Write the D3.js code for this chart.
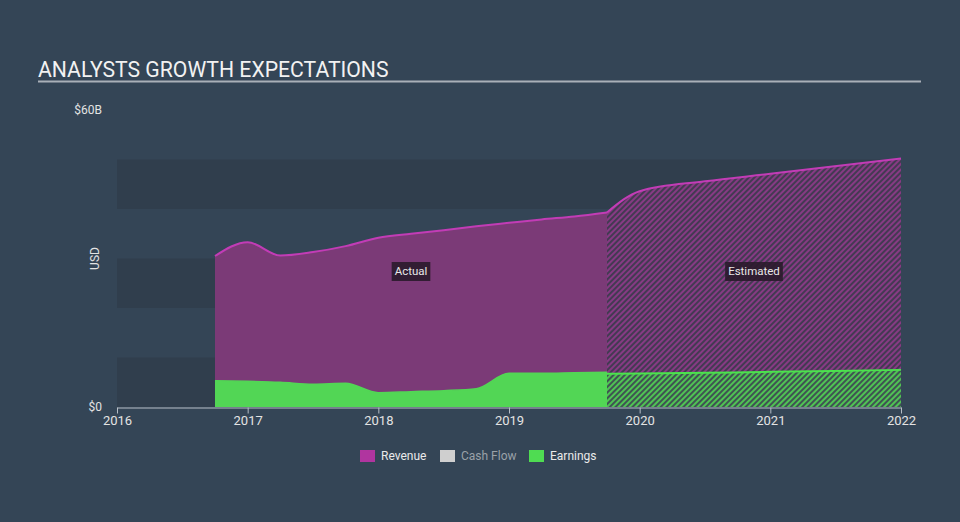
<!DOCTYPE html>
<html>
<head>
<meta charset="utf-8">
<script src="https://cdn.jsdelivr.net/npm/d3@7"></script>
<style>
  body { margin: 0; background: #344556; }
  svg { display: block; font-family: Roboto, "Open Sans", sans-serif; }
</style>
</head>
<body>
<div class="container"></div>
<script>
// values in $B, x is fractional year
var revActualX = [2016.75, 2017.0, 2017.25, 2017.5, 2017.75, 2018.0, 2018.25, 2018.5, 2018.75, 2019.0, 2019.25, 2019.5, 2019.75];
var revActual  = [30.5, 33.3, 30.6, 31.3, 32.5, 34.2, 35.0, 35.7, 36.5, 37.2, 37.9, 38.5, 39.3];
var earnActual = [5.3, 5.2, 5.0, 4.6, 4.8, 2.9, 3.1, 3.3, 3.7, 6.8, 6.8, 6.9, 7.0];

var estX      = [2019.75, 2020.0, 2020.5, 2021.0, 2022.0];
var revEst    = [39.3, 43.6, 45.6, 47.1, 50.2];
var earnEst   = [6.7, 6.75, 6.9, 7.1, 7.5];

var yearTicks = [2016, 2017, 2018, 2019, 2020, 2021, 2022];
var yTicks = [0, 60];
var yTickLabels = ["$0", "$60B"];
var bands = [[0, 10], [20, 30], [40, 50]];
var legendItems = ["Revenue", "Cash Flow", "Earnings"];
var legendColors = ["#b0359f", "#cfcfcf", "#4fdc52"];

buildChart();

function buildChart(){
  var width = 960, height = 522;
  var svg = d3.select(".container")
    .append("svg")
      .attr("width", width)
      .attr("height", height);

  svg.append("rect").attr("width", width).attr("height", height).attr("fill", "#344556");

  var x = d3.scaleLinear().domain([2016, 2022]).range([117, 901]);
  var y = d3.scaleLinear().domain([0, 60]).range([407, 110]);

  // hatch patterns for estimates
  var defs = svg.append("defs");
  var p1 = defs.append("pattern")
    .attr("id", "hatchRev")
    .attr("patternUnits", "userSpaceOnUse")
    .attr("width", 4).attr("height", 4)
    .attr("patternTransform", "rotate(45)");
  p1.append("rect").attr("width", 4).attr("height", 4).attr("fill", "#433a52");
  p1.append("rect").attr("width", 2).attr("height", 4).attr("fill", "#873a84");

  var p2 = defs.append("pattern")
    .attr("id", "hatchEarn")
    .attr("patternUnits", "userSpaceOnUse")
    .attr("width", 4).attr("height", 4)
    .attr("patternTransform", "rotate(45)");
  p2.append("rect").attr("width", 4).attr("height", 4).attr("fill", "#3f5352");
  p2.append("rect").attr("width", 2).attr("height", 4).attr("fill", "#50c354");

  // title
  svg.append("text")
    .attr("x", 38).attr("y", 77)
    .attr("fill", "#f2f2f2")
    .style("font-size", "21.2px")
    .text("ANALYSTS GROWTH EXPECTATIONS");
  svg.append("line")
    .attr("x1", 38).attr("x2", 921)
    .attr("y1", 81.5).attr("y2", 81.5)
    .attr("stroke", "#a9b0b8").attr("stroke-width", 2);

  // background bands
  svg.append("g")
    .selectAll("rect")
    .data(bands)
    .enter()
    .append("rect")
      .attr("x", x(2016))
      .attr("width", x(2022) - x(2016))
      .attr("y", function(d) { return y(d[1]); })
      .attr("height", function(d) { return y(d[0]) - y(d[1]); })
      .attr("fill", "#303e4d");

  var actual = revActualX.map(function(v, i) { return {x: v, rev: revActual[i], earn: earnActual[i]}; });
  var est = estX.map(function(v, i) { return {x: v, rev: revEst[i], earn: earnEst[i]}; });

  var area = function(key) {
    return d3.area().curve(d3.curveMonotoneX)
      .x(function(d) { return x(d.x); })
      .y0(y(0))
      .y1(function(d) { return y(d[key]); });
  };
  var line = function(key) {
    return d3.line().curve(d3.curveMonotoneX)
      .x(function(d) { return x(d.x); })
      .y(function(d) { return y(d[key]); });
  };

  // revenue
  svg.append("path").datum(actual).attr("d", area("rev")).attr("fill", "#7b3a77");
  svg.append("path").datum(est).attr("d", area("rev")).attr("fill", "url(#hatchRev)");
  // earnings
  svg.append("path").datum(actual).attr("d", area("earn")).attr("fill", "#52d655");
  svg.append("path").datum(est).attr("d", area("earn")).attr("fill", "url(#hatchEarn)");

  svg.append("path").datum(actual).attr("d", line("rev"))
    .attr("fill", "none").attr("stroke", "#c23cb6").attr("stroke-width", 2);
  svg.append("path").datum(est).attr("d", line("rev"))
    .attr("fill", "none").attr("stroke", "#c23cb6").attr("stroke-width", 2);
  svg.append("path").datum(actual).attr("d", line("earn"))
    .attr("fill", "none").attr("stroke", "#52d655").attr("stroke-width", 1.5);
  svg.append("path").datum(est).attr("d", line("earn"))
    .attr("fill", "none").attr("stroke", "#4be34d").attr("stroke-width", 2);

  // x axis
  var xAxis = svg.append("g")
    .attr("transform", "translate(0," + (y(0) + 0.5) + ")")
    .call(d3.axisBottom(x).tickValues(yearTicks).tickFormat(d3.format("d")).tickSize(6).tickSizeOuter(0));
  xAxis.select(".domain").attr("stroke", "#b7bec6");
  xAxis.selectAll(".tick line").attr("stroke", "#b7bec6");
  xAxis.selectAll(".tick text")
    .attr("fill", "#e3e3e3")
    .attr("y", 8)
    .style("font-size", "13px")
    .style("font-family", "Roboto, sans-serif");

  // y labels
  svg.append("g")
    .selectAll("text")
    .data(yTicks)
    .enter()
    .append("text")
      .attr("x", 102)
      .attr("y", function(d) { return y(d); })
      .attr("dy", "0.35em")
      .attr("text-anchor", "end")
      .attr("fill", "#e3e3e3")
      .style("font-size", "12px")
      .text(function(d, i) { return yTickLabels[i]; });

  svg.append("text")
    .attr("transform", "translate(99," + y(30) + ") rotate(-90)")
    .attr("text-anchor", "middle")
    .attr("fill", "#e3e3e3")
    .style("font-size", "12px")
    .text("USD");

  // Actual / Estimated tags
  var tags = [
    {label: "Actual", cx: (x(revActualX[0]) + x(estX[0])) / 2},
    {label: "Estimated", cx: (x(estX[0]) + x(estX[estX.length - 1])) / 2}
  ];
  tags.forEach(function(t) {
    var g = svg.append("g");
    var txt = g.append("text")
      .attr("x", t.cx).attr("y", 271)
      .attr("dy", "0.35em")
      .attr("text-anchor", "middle")
      .attr("fill", "#e8e8e8")
      .style("font-size", "11.5px")
      .text(t.label);
    var bb = txt.node().getBBox();
    g.insert("rect", "text")
      .attr("x", bb.x - 3).attr("y", 262)
      .attr("width", bb.width + 6).attr("height", 19)
      .attr("fill", "#2a1b2b").attr("opacity", 0.9);
  });

  // legend
  var legendX = [360, 440, 529];
  var legend = svg.append("g")
    .selectAll("g")
    .data(legendItems)
    .enter()
    .append("g")
      .attr("transform", function(d, i) { return "translate(" + legendX[i] + ",450)"; });
  legend.append("rect")
    .attr("width", 15).attr("height", 12)
    .attr("fill", function(d, i) { return legendColors[i]; });
  legend.append("text")
    .attr("x", 21).attr("y", 6)
    .attr("dy", "0.35em")
    .attr("fill", function(d, i) { return i === 1 ? "#9aa1a8" : "#eaeaea"; })
    .style("font-size", "12px")
    .text(function(d) { return d; });
}
</script>
</body>
</html>
